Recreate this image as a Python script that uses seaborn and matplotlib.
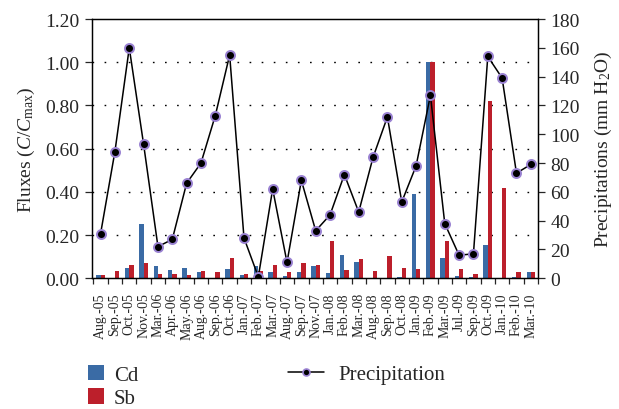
import numpy as np
import pandas as pd
import matplotlib
matplotlib.use("Agg")
import matplotlib.pyplot as plt
import seaborn as sns
from matplotlib.patches import Patch
from matplotlib.lines import Line2D

# Sampling months
months = ["Aug.-05", "Sep.-05", "Oct.-05", "Nov.-05", "Mar.-06", "Apr.-06",
          "May.-06", "Aug.-06", "Sep.-06", "Oct.-06", "Jan.-07", "Feb.-07",
          "Mar.-07", "Aug.-07", "Sep.-07", "Nov.-07", "Jan.-08", "Feb.-08",
          "Mar.-08", "Aug.-08", "Sep.-08", "Oct.-08", "Jan.-09", "Feb.-09",
          "Mar.-09", "Jul.-09", "Sep.-09", "Oct.-09", "Jan.-10", "Feb.-10",
          "Mar.-10"]

# Normalised fluxes C/Cmax
cd_flux = [0.015, 0.0, 0.046, 0.252, 0.055, 0.038, 0.048, 0.028, 0.0, 0.043,
           0.014, 0.057, 0.029, 0.009, 0.028, 0.055, 0.026, 0.106, 0.074, 0.0,
           0.0, 0.006, 0.39, 1.0, 0.094, 0.011, 0.006, 0.154, 0.0, 0.005, 0.029]
sb_flux = [0.013, 0.035, 0.062, 0.069, 0.020, 0.018, 0.015, 0.034, 0.029, 0.092,
           0.021, 0.034, 0.062, 0.029, 0.069, 0.060, 0.172, 0.040, 0.088, 0.032,
           0.102, 0.048, 0.043, 1.0, 0.172, 0.043, 0.021, 0.82, 0.42, 0.029, 0.029]

# Monthly precipitation (mm H2O)
precip = [31, 88, 160, 93, 22, 27, 66, 80, 113, 155, 28, 1, 62, 11, 68, 33,
          44, 72, 46, 84, 112, 53, 78, 127, 38, 16, 17, 154, 139, 73, 79]

flux_ticks = [0.0, 0.2, 0.4, 0.6, 0.8, 1.0, 1.2]
precip_ticks = list(range(0, 181, 20))

elements = ["Cd", "Sb"]
colors = {"Cd": "#3A6BA5", "Sb": "#BC1F2B"}
edge_purple = "#9A82D2"

sns.set_style("ticks")
plt.rcParams["font.family"] = ["Liberation Serif", "DejaVu Serif"]
plt.rcParams["mathtext.fontset"] = "custom"
plt.rcParams["mathtext.rm"] = "Liberation Serif"
plt.rcParams["mathtext.it"] = "Liberation Serif:italic"
plt.rcParams["axes.linewidth"] = 0.9
plt.rcParams["axes.edgecolor"] = "black"

n = len(months)
flux_df = pd.DataFrame({
    "Month": months * 2,
    "Element": ["Cd"] * n + ["Sb"] * n,
    "Flux": cd_flux + sb_flux,
})
rain_df = pd.DataFrame({"Month": months, "Precipitation": precip})

fig = plt.figure(figsize=(6.19, 4.10), dpi=100)
ax = fig.add_axes([0.1486, 0.3188, 0.7205, 0.6324])

# Dotted reference lines behind the bars
for lvl in flux_ticks[1:-1]:
    ax.axhline(lvl, color="black", lw=1.0, ls=(0, (1.2, 7.5)), zorder=0)

sns.barplot(data=flux_df, x="Month", y="Flux", hue="Element", order=months,
            hue_order=elements, palette=colors, width=0.6, saturation=1,
            linewidth=0, legend=False, ax=ax, zorder=2)

ax.set_ylim(0, 1.2)
ax.set_yticks(flux_ticks)
ax.set_yticklabels([f"{v:.2f}" for v in flux_ticks])
ax.set_xlim(-0.6, n - 0.5)
ax.set_xticks(range(n))
ax.set_xticklabels(months, rotation=90)
ax.set_xticks(np.arange(-0.5, n, 1.0), minor=True)
ax.tick_params(axis="x", which="major", length=0, pad=10, labelsize=10)
ax.tick_params(axis="x", which="minor", length=4, width=0.9, direction="out")
ax.tick_params(axis="y", length=5, width=0.9, direction="out", pad=4,
               labelsize=14)
ax.set_xlabel("")
ax.set_ylabel(r"Fluxes ($C/C_{\mathrm{max}}$)", fontsize=14, labelpad=6)

ax2 = ax.twinx()
sns.lineplot(data=rain_df, x="Month", y="Precipitation", sort=False, ax=ax2,
             color="black", lw=1.1, marker="o", markersize=6.5,
             markerfacecolor="black", markeredgecolor=edge_purple,
             markeredgewidth=1.4)
ax2.set_ylim(0, 180)
ax2.set_yticks(precip_ticks)
ax2.tick_params(axis="y", length=5, width=0.9, direction="out", pad=4,
                labelsize=14)
ax2.set_ylabel(r"Precipitations (mm H$_2$O)", fontsize=14, labelpad=9)
ax2.set_xlim(-0.6, n - 0.5)
for sp in ax2.spines.values():
    sp.set_linewidth(0.9)

# Legends below the plot
bar_handles = [Patch(facecolor=colors[e], edgecolor="none", label=e)
               for e in elements]
fig.legend(handles=bar_handles, loc="upper left",
           bbox_to_anchor=(0.142, 0.108), frameon=False, fontsize=15,
           handlelength=0.75, handleheight=0.75, handletextpad=0.5,
           labelspacing=0.18, borderpad=0, borderaxespad=0)
line_handle = Line2D([], [], color="black", lw=1.1, marker="o", markersize=5,
                     markerfacecolor="black", markeredgecolor=edge_purple,
                     markeredgewidth=1.2, label="Precipitation")
fig.legend(handles=[line_handle], loc="upper left",
           bbox_to_anchor=(0.466, 0.108), frameon=False, fontsize=15,
           handlelength=1.7, handletextpad=0.7, borderpad=0, borderaxespad=0)

fig.savefig("out.png", dpi=100)
